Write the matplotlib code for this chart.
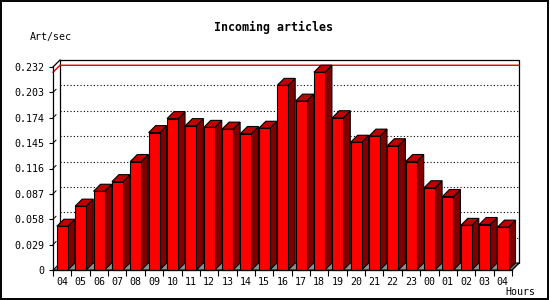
import matplotlib
matplotlib.use("Agg")
import matplotlib.pyplot as plt

# data
hours = ['04', '05', '06', '07', '08', '09', '10', '11', '12', '13', '14', '15',
         '16', '17', '18', '19', '20', '21', '22', '23', '00', '01', '02', '03', '04']
values = [0.050, 0.073, 0.090, 0.101, 0.124, 0.157, 0.173, 0.165, 0.163, 0.161,
          0.156, 0.162, 0.211, 0.193, 0.226, 0.174, 0.146, 0.153, 0.142, 0.124,
          0.094, 0.084, 0.051, 0.052, 0.049]
yticks = [0, 0.029, 0.058, 0.087, 0.116, 0.145, 0.174, 0.203, 0.232]
ytick_labels = ['0', '0.029', '0.058', '0.087', '0.116', '0.145', '0.174', '0.203', '0.232']

mono = 'DejaVu Sans Mono'
W, H = 550, 300
fig = plt.figure(figsize=(5.5, 3), dpi=100)
fig.patch.set_facecolor('white')

# front plot area in pixels: x 53..512, y 67..270
ax = fig.add_axes([53 / W, 30 / H, 459 / W, 203 / H])
n = len(values)
ymax = yticks[-1]
ax.set_xlim(0, n)
ax.set_ylim(0, ymax)
ax.patch.set_visible(False)

xpx = n / 459.0      # one pixel in x data units
ypx = ymax / 203.0   # one pixel in y data units
dx, dy = 7 * xpx, 7 * ypx   # 3d depth

# back wall
ax.fill([dx, n + dx, n + dx, dx], [dy, dy, ymax + dy, ymax + dy],
        facecolor='white', edgecolor='black', lw=0.9, zorder=1, clip_on=False)
# floor
ax.fill([0, n, n + dx, dx], [0, 0, dy, dy], facecolor='#909090',
        edgecolor='black', lw=0.7, zorder=1.5, clip_on=False)

# dotted grid on the back wall
for v in yticks[1:-1]:
    ax.plot([dx, n + dx], [v + dy, v + dy], color='black', lw=0.8,
            linestyle=(0, (1, 2)), zorder=1.6, clip_on=False)
    ax.plot([0, 3 * xpx], [v, v + 3 * ypx], color='black', lw=0.7,
            zorder=1.6, clip_on=False)

# top-left and bottom-right connectors
ax.plot([0, dx], [ymax, ymax + dy], color='black', lw=0.9, zorder=1.6, clip_on=False)
ax.plot([n, n + dx], [0, dy], color='black', lw=0.9, zorder=1.6, clip_on=False)

# max line
vmax = max(values)
ax.plot([0, dx, n + dx], [vmax, vmax + dy, vmax + dy], color='#e00000', lw=1.0,
        zorder=1.7, clip_on=False)

# 3d bars
front_c, top_c, side_c = '#ff0000', '#c00000', '#800000'
bw = 0.6
for i, v in enumerate(values):
    x0 = i + 0.21
    x1 = x0 + bw
    ax.fill([x1, x1 + dx, x1 + dx, x1], [0, dy, v + dy, v], facecolor=side_c,
            edgecolor='black', lw=0.8, zorder=3, clip_on=False)
    ax.fill([x0, x1, x1 + dx, x0 + dx], [v, v, v + dy, v + dy], facecolor=top_c,
            edgecolor='black', lw=0.8, zorder=3, clip_on=False)
    ax.fill([x0, x1, x1, x0], [0, 0, v, v], facecolor=front_c,
            edgecolor='black', lw=0.8, zorder=3.1, clip_on=False)

# axes
for s in ['top', 'right']:
    ax.spines[s].set_visible(False)
for s in ['left', 'bottom']:
    ax.spines[s].set_linewidth(0.9)
    ax.spines[s].set_zorder(3.5)
ax.set_yticks(yticks)
ax.set_yticklabels(ytick_labels, fontfamily=mono, fontsize=7.2)
ax.tick_params(axis='y', length=3, width=0.8, pad=3.5)
ax.set_xticks(range(n + 1))
ax.set_xticklabels([])
ax.tick_params(axis='x', which='major', length=4, width=0.8)
ax.set_xticks([i + 0.5 for i in range(n)], minor=True)
ax.set_xticklabels(hours, minor=True, fontfamily=mono, fontsize=7.2)
ax.tick_params(axis='x', which='minor', length=0, pad=5)

# texts
fig.text(273.5 / W, 1 - 27 / H, 'Incoming articles', ha='center', va='center',
         fontfamily=mono, fontsize=8.4, fontweight='bold')
fig.text(30 / W, 1 - 37 / H, 'Art/sec', ha='left', va='center',
         fontfamily=mono, fontsize=7.2)
fig.text(505 / W, 1 - 292 / H, 'Hours', ha='left', va='center',
         fontfamily=mono, fontsize=7.2)

# outer frame
fig.add_artist(plt.Rectangle((0.001, 0.002), 0.996, 0.995, transform=fig.transFigure,
                             fill=False, edgecolor='black', lw=1.4))

fig.savefig('out.png', dpi=100)
